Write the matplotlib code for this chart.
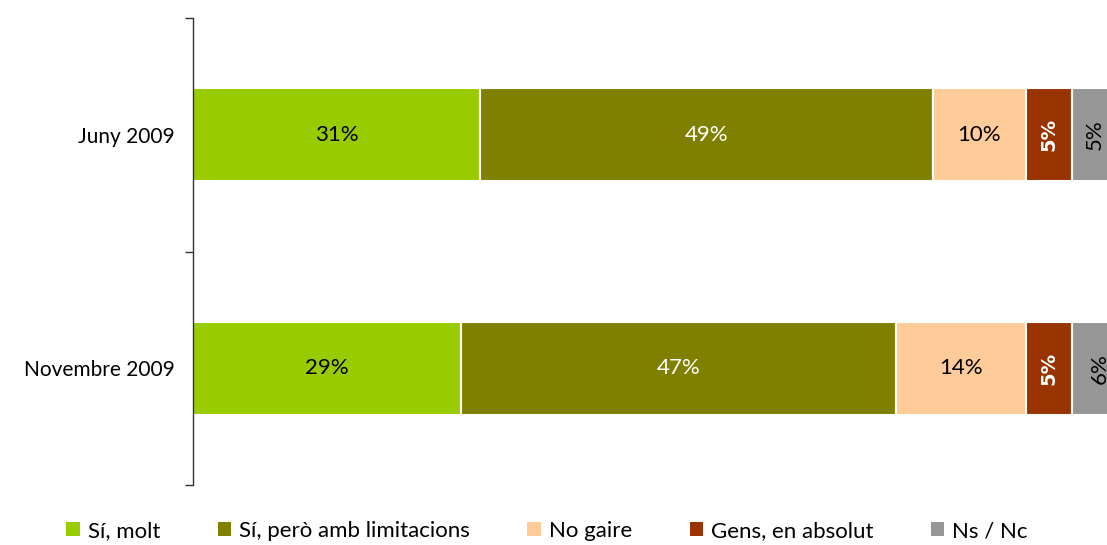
import matplotlib
matplotlib.use("Agg")
import matplotlib.pyplot as plt
from matplotlib.patches import Patch
import numpy as np

plt.rcParams['font.family'] = ['Lato', 'DejaVu Sans']

categories = ["Novembre 2009", "Juny 2009"]
series = ["Sí, molt", "Sí, però amb limitacions", "No gaire", "Gens, en absolut", "Ns / Nc"]
values = {
    "Sí, molt": [29, 31],
    "Sí, però amb limitacions": [47, 49],
    "No gaire": [14, 10],
    "Gens, en absolut": [5, 5],
    "Ns / Nc": [6, 5],
}
colors = ["#99CC00", "#808000", "#FFCC99", "#993300", "#969696"]
text_colors = ["black", "white", "black", "white", "black"]

W, H = 1107, 545
fig = plt.figure(figsize=(W / 100, H / 100), dpi=100)
ax = fig.add_axes([193 / W, 60 / H, 925 / W, 467 / H])

y = np.arange(len(categories))
left = np.zeros(len(categories))
for i, name in enumerate(series):
    vals = np.array(values[name], dtype=float)
    ax.barh(y, vals, left=left, height=0.4, color=colors[i],
            edgecolor="white", linewidth=1.5, zorder=2)
    for j, v in enumerate(vals):
        cx = left[j] + v / 2
        if v < 8:
            if i == 3:
                ax.text(cx, y[j], f"{v:.0f}%", rotation=90, ha="center", va="center",
                        color=text_colors[i], fontsize=14, fontweight="bold",
                        family=["DejaVu Sans"], zorder=3)
            else:
                ax.text(cx, y[j], f"{v:.0f}%", rotation=90, ha="center", va="center",
                        color=text_colors[i], fontsize=16, zorder=3)
        else:
            ax.text(cx, y[j], f"{v:.0f}%", ha="center", va="center",
                    color=text_colors[i], fontsize=16, zorder=3)
    left += vals

ax.set_xlim(0, 100)
ax.set_ylim(-0.5, 1.5)
for s in ["top", "right", "bottom"]:
    ax.spines[s].set_visible(False)
ax.spines["left"].set_color("#333333")
ax.spines["left"].set_linewidth(1.0)
ax.set_xticks([])
ax.set_yticks(y)
ax.set_yticklabels(categories, fontsize=15)
ax.tick_params(axis="y", which="major", length=0, pad=13)
ax.set_yticks([-0.5, 0.5, 1.5], minor=True)
ax.tick_params(axis="y", which="minor", length=6, width=1.0, color="#333333")

handles = [Patch(facecolor=c, edgecolor="none") for c in colors]
fig.legend(handles, series, loc="center", bbox_to_anchor=(547 / W, 1 - 531 / H),
           ncol=5, frameon=False, fontsize=16, handlelength=0.6, handleheight=0.6,
           handletextpad=0.35, columnspacing=2.6)

fig.savefig("out.png", dpi=100)
